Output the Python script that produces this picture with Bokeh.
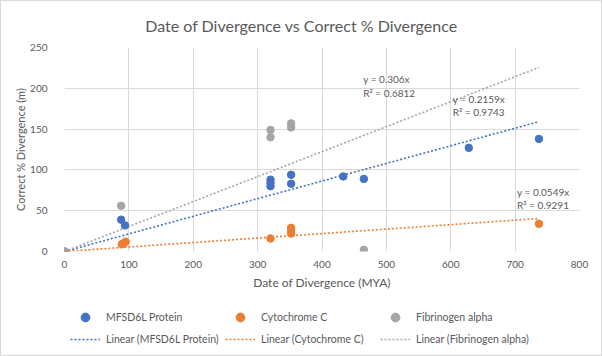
from bokeh.plotting import figure
from bokeh.layouts import column
from bokeh.models import (Range1d, FixedTicker, Label, Legend, LegendItem)
from bokeh.embed import file_html
from bokeh.resources import INLINE

# ---------------- data ----------------
title_text = "Date of Divergence vs Correct % Divergence"
series_names = ["MFSD6L Protein", "Cytochrome C", "Fibrinogen alpha"]
colors = ["#4472C4", "#ED7D31", "#A5A5A5"]

mfsd6l_x = [0, 88, 94, 320, 320, 320, 352, 352, 433, 465, 628, 737]
mfsd6l_y = [0, 39, 32, 88, 84, 80, 94, 83, 92, 89, 127, 138]

cytc_x = [0, 89, 92, 95, 320, 352, 352, 352, 737]
cytc_y = [0, 9, 10, 12, 16, 29, 26, 22, 34]

fib_x = [0, 88, 320, 320, 352, 352, 465]
fib_y = [0, 56, 149, 140, 157, 152, 2]

slopes = [0.2159, 0.0549, 0.306]
r2 = [0.9743, 0.9291, 0.6812]

x_ticks = [0, 100, 200, 300, 400, 500, 600, 700, 800]
y_ticks = [0, 50, 100, 150, 200, 250]

FONT = "Lato"
TXT = "#595959"


def strip(h):
    f = figure(width=600, height=h, output_backend="svg", toolbar_location=None,
               x_range=Range1d(0, 1), y_range=Range1d(0, 1),
               min_border_left=0, min_border_right=0, min_border_top=0, min_border_bottom=0)
    f.axis.visible = False
    f.grid.visible = False
    f.outline_line_color = None
    f.background_fill_color = "white"
    f.border_fill_color = "white"
    return f


# ---------------- title strip ----------------
t = strip(40)
t.add_layout(Label(x=237, y=16, x_units="screen", y_units="screen", text=title_text,
                   text_font=FONT, text_font_size="16px", text_color=TXT,
                   text_align="center", text_baseline="middle"))

# ---------------- main plot ----------------
p = figure(width=600, height=262, output_backend="svg", toolbar_location=None,
           x_range=Range1d(0, 800), y_range=Range1d(0, 250),
           min_border_left=63, min_border_right=22, min_border_top=6, min_border_bottom=52)
p.outline_line_color = None
p.background_fill_color = "white"
p.border_fill_color = "white"

for ax in (p.xaxis[0], p.yaxis[0]):
    ax.axis_line_color = None
    ax.major_tick_line_color = None
    ax.minor_tick_line_color = None
    ax.major_label_text_font = FONT
    ax.major_label_text_font_size = "10px"
    ax.major_label_text_color = TXT
    ax.axis_label_text_font = FONT
    ax.axis_label_text_font_style = "normal"
    ax.axis_label_text_color = TXT

p.xaxis.axis_label_text_font_size = "12px"
p.yaxis.axis_label_text_font_size = "11px"
p.xaxis.ticker = FixedTicker(ticks=x_ticks)
p.yaxis.ticker = FixedTicker(ticks=y_ticks)
p.xaxis.major_label_standoff = 3
p.yaxis.major_label_standoff = 11
p.xaxis.axis_label = "Date of Divergence (MYA)"
p.yaxis.axis_label = "Correct % Divergence (m)"
p.xaxis.axis_label_standoff = 4
p.yaxis.axis_label_standoff = 0

p.xgrid.grid_line_color = "#d9d9d9"
p.ygrid.grid_line_color = "#d9d9d9"

xs_all = [mfsd6l_x, cytc_x, fib_x]
ys_all = [mfsd6l_y, cytc_y, fib_y]
x_end = max(max(v) for v in xs_all)

for xs, ys, c, m in zip(xs_all, ys_all, colors, slopes):
    p.line([0, x_end], [0, m * x_end], line_color=c, line_width=1.6, line_dash="2 2")
for xs, ys, c in zip(xs_all, ys_all, colors):
    p.scatter(xs, ys, size=7.5, fill_color=c, line_color=c)

# equation labels (positions in data units)
label_pos = [(603, 187.5, 170.6), (703, 73, 56.6), (464, 211, 194)]
for (lx, ly1, ly2), m, r in zip(label_pos, slopes, r2):
    p.add_layout(Label(x=lx, y=ly1, text=f"y = {m}x", text_font=FONT, text_font_size="10px",
                       text_color=TXT, text_baseline="middle", text_align="left"))
    p.add_layout(Label(x=lx, y=ly2, text=f"R\u00b2 = {r}", text_font=FONT, text_font_size="10px",
                       text_color=TXT, text_baseline="middle", text_align="left"))

# ---------------- legend strip ----------------
q = strip(52)
# off-screen proxies so the legend can draw each glyph
sc_r = [q.scatter([-5], [-5], size=7.5, fill_color=c, line_color=c) for c in colors]
ln_r = [q.line([-5, -4], [-5, -4], line_color=c, line_width=1.6, line_dash="2 2") for c in colors]

rows = [
    ([LegendItem(label=series_names[i], renderers=[sc_r[i]]) for i in range(3)], 27),
    ([LegendItem(label=f"Linear ({series_names[i]})", renderers=[ln_r[i]]) for i in range(3)], 5),
]
for its, ly in rows:
    lg = Legend(items=its, orientation="horizontal", location=(6, ly),
                padding=0, margin=0, spacing=0,
                glyph_width=30, glyph_height=22, label_height=22, label_width=119, label_standoff=6,
                label_text_font=FONT, label_text_font_size="10.5px", label_text_color=TXT,
                border_line_alpha=0, background_fill_alpha=0)
    q.add_layout(lg, "center")

layout = column(t, p, q, spacing=0, styles={"border": "1px solid #d9d9d9"})

open("out.html", "w").write(file_html(layout, INLINE))
